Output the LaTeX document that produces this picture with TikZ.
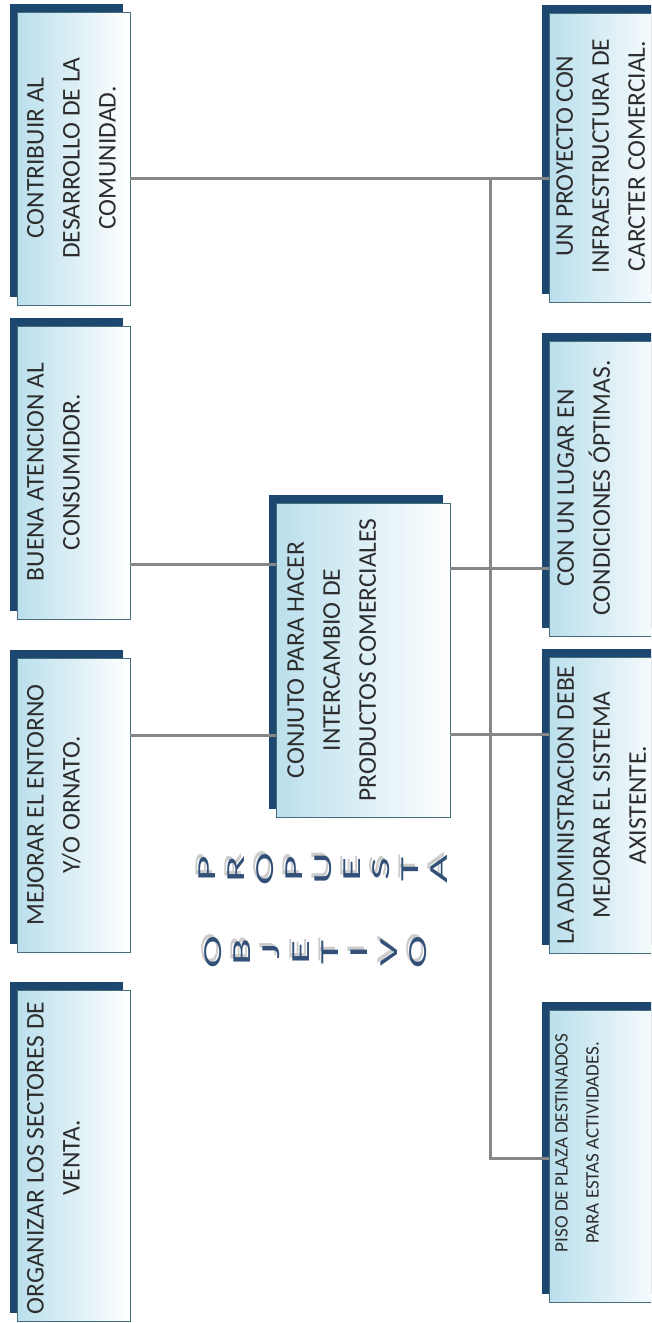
\documentclass[tikz,border=0pt]{standalone}
\usepackage{fontspec}
\setmainfont{Carlito}
\usetikzlibrary{shadows}
\definecolor{navy}{RGB}{28,72,112}
\definecolor{edgec}{RGB}{70,110,125}
\definecolor{lightc}{RGB}{186,223,236}
\definecolor{connc}{RGB}{135,135,135}
\definecolor{txtc}{RGB}{45,45,45}
\definecolor{wac}{RGB}{50,80,120}
\begin{document}
\begin{tikzpicture}[x=1pt,y=-1pt,
  obox/.style={draw=edgec, line width=0.9pt, rectangle, inner sep=0pt, outer sep=0pt,
    anchor=north west, left color=lightc, right color=white,
    drop shadow={shadow xshift=-7pt, shadow yshift=8pt, fill=navy, opacity=1}},
  btext/.style={rotate=90, anchor=north, inner sep=0pt, align=center, text=txtc,
    font=\fontsize{25.5}{36}\selectfont},
  stext/.style={btext, font=\fontsize{19}{31}\selectfont},
  conn/.style={draw=connc, line width=3pt},
  wal/.style={rotate=90, inner sep=0pt, text=wac, font=\fontsize{26}{26}\selectfont},
  was/.style={wal, text=black!20}]
\useasboundingbox (0,0) rectangle (651,1323);
\clip (0,0) rectangle (651,1323);
% left column
\node[obox, minimum width=113pt, minimum height=293pt] (A) at (17,12) {};
\node[obox, minimum width=113pt, minimum height=293pt] (B) at (17,326) {};
\node[obox, minimum width=113pt, minimum height=294pt] (C) at (17,658) {};
\node[obox, minimum width=113pt, minimum height=331pt] (D) at (17,990) {};
% centre
\node[obox, minimum width=174pt, minimum height=314pt] (M) at (276,503) {};
% right column
\node[obox, minimum width=120pt, minimum height=289pt] (E) at (549,13) {};
\node[obox, minimum width=120pt, minimum height=295pt] (F) at (549,341) {};
\node[obox, minimum width=120pt, minimum height=296pt] (G) at (549,657) {};
\node[obox, minimum width=120pt, minimum height=292pt] (H) at (549,1010) {};
% texts
\node[btext] (tA) at (27,158) {CONTRIBUIR AL\\DESARROLLO DE LA\\COMUNIDAD.};
\node[btext] (tB) at (27,472) {BUENA ATENCION AL\\CONSUMIDOR.};
\node[btext] (tC) at (27,805) {MEJORAR EL ENTORNO\\Y/O ORNATO.};
\node[btext] (tD) at (27,1158) {ORGANIZAR LOS SECTORES DE\\VENTA.};
\node[btext] (tM) at (287,660) {CONJUTO PARA HACER\\INTERCAMBIO DE\\PRODUCTOS COMERCIALES};
\node[btext] (tE) at (556,156) {UN PROYECTO CON\\INFRAESTRUCTURA DE\\CARCTER COMERCIAL.};
\node[btext] (tF) at (557,488) {CON UN LUGAR EN\\CONDICIONES ÓPTIMAS.};
\node[btext] (tG) at (557,805) {LA ADMINISTRACION DEBE\\MEJORAR EL SISTEMA\\AXISTENTE.};
\node[stext] (tH) at (555,1143) {PISO DE PLAZA DESTINADOS\\PARA ESTAS ACTIVIDADES.};
% connectors
\coordinate (t1) at (490,178);
\coordinate (t2) at (490,1158);
\draw[conn] (A.east |- t1) -- (E.west |- t1);
\draw[conn] (t1) -- (t2) -- (H.west |- t2);
\coordinate (yb) at (0,564);
\coordinate (yc) at (0,735);
\coordinate (yf) at (0,568);
\coordinate (yg) at (0,734);
\draw[conn] (B.east |- yb) -- (M.west |- yb);
\draw[conn] (C.east |- yc) -- (M.west |- yc);
\draw[conn] (M.east |- yf) -- (F.west |- yf);
\draw[conn] (M.east |- yg) -- (G.west |- yg);
% word art letters
\foreach \l [count=\i] in {P,R,O,P,U,E,S,T,A}{
  \node[was] (ps\i) at ({207+29*(\i-1)-3},866) {\scalebox{1.9}[1]{\l}};
  \node[wal] (p\i) at ({207+29*(\i-1)},869) {\scalebox{1.9}[1]{\l}};
}
\foreach \l [count=\i] in {O,B,J,E,T,I,V,O}{
  \node[was] (os\i) at ({213+29.3*(\i-1)-3},949) {\scalebox{1.9}[1]{\l}};
  \node[wal] (o\i) at ({213+29.3*(\i-1)},952) {\scalebox{1.9}[1]{\l}};
}
\end{tikzpicture}
\end{document}
